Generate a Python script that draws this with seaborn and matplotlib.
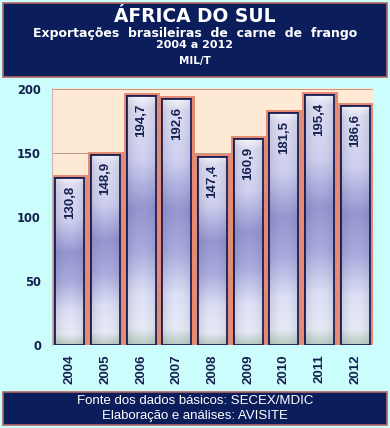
import numpy as np
import pandas as pd
import seaborn as sns
import matplotlib.pyplot as plt
import matplotlib.patheffects as pe
from matplotlib.patches import Rectangle
from matplotlib.colors import LinearSegmentedColormap

years = ["2004", "2005", "2006", "2007", "2008", "2009", "2010", "2011", "2012"]
exports = [130.8, 148.9, 194.7, 192.6, 147.4, 160.9, 181.5, 195.4, 186.6]
value_labels = ["130,8", "148,9", "194,7", "192,6", "147,4", "160,9", "181,5", "195,4", "186,6"]
y_ticks = [0, 50, 100, 150, 200]

NAVY = "#0c1d5c"
TEXT = "#14204e"
WIDE = ["DejaVu Sans"]

sns.set_style("white")
plt.rcParams["font.family"] = ["Liberation Sans", "DejaVu Sans"]

fig = plt.figure(figsize=(3.9, 4.28), dpi=100)
fig.patch.set_facecolor("#ccfdfd")
W, H = 390, 428


def box(x0, y0, x1, y1):
    # pixel coords from top-left
    fig.patches.append(Rectangle((x0 / W, 1 - y1 / H), (x1 - x0) / W, (y1 - y0) / H,
                                 transform=fig.transFigure, facecolor=NAVY,
                                 edgecolor="#b06a60", linewidth=1.2, zorder=0))


box(3, 3, 387, 77)
box(3, 392, 387, 425)

fig.text(0.5, 1 - 17 / H, "ÁFRICA DO SUL", color="white", fontsize=13.4,
         fontweight="bold", ha="center", va="center", family=WIDE)
fig.text(0.5, 1 - 33 / H, "Exportações  brasileiras  de  carne  de  frango",
         color="white", fontsize=9, fontweight="bold", ha="center", va="center",
         family=WIDE)
fig.text(0.5, 1 - 45.5 / H, "2004 a 2012", color="white", fontsize=8,
         fontweight="bold", ha="center", va="center", family=WIDE)
fig.text(0.5, 1 - 61 / H, "MIL/T", color="white", fontsize=7.5,
         fontweight="bold", ha="center", va="center", family=WIDE)
fig.text(0.5, 1 - 401 / H, "Fonte dos dados básicos: SECEX/MDIC", color="white",
         fontsize=9.5, ha="center", va="center")
fig.text(0.5, 1 - 416.5 / H, "Elaboração e análises: AVISITE", color="white",
         fontsize=9.5, ha="center", va="center")

ax = fig.add_axes([52 / W, 1 - 345 / H, (373 - 52) / W, (345 - 88) / H])
ax.set_facecolor("#fde9d4")

df = pd.DataFrame({"ano": years, "exportacao": exports})
sns.barplot(data=df, x="ano", y="exportacao", ax=ax, width=0.82,
            color="#a8a8dc", edgecolor="#1c1f55", linewidth=1.3, saturation=1)

# vertical gradient of each bar (top -> bottom)
grad = LinearSegmentedColormap.from_list("bar", [
    (0.0, "#f2f3fb"), (0.04, "#dcdcf2"), (0.25, "#cfd0f0"),
    (0.45, "#9696d2"), (0.62, "#a9aade"), (0.8, "#dde0f6"),
    (0.94, "#e6eaf6"), (1.0, "#bccbc4")])
ny, nx = 120, 30
t = np.linspace(0, 1, ny)[:, None]
s = np.linspace(-1, 1, nx)[None, :]
rgb = grad(np.repeat(t, nx, axis=1))[..., :3]
rgb = rgb * (1 - 0.10 * s[..., None] ** 2)

for patch, lab in zip(ax.patches, value_labels):
    x0, y0 = patch.get_x(), patch.get_y()
    w, h = patch.get_width(), patch.get_height()
    patch.set_path_effects([pe.Stroke(linewidth=5, foreground="#e48a72"), pe.Normal()])
    patch.set_zorder(2)
    im = ax.imshow(rgb, extent=(x0, x0 + w, y0, y0 + h), aspect="auto",
                   origin="upper", zorder=2.5, interpolation="bilinear")
    im.set_clip_path(patch)
    edge = Rectangle((x0, y0), w, h, facecolor="none", edgecolor="#1c1f55",
                     linewidth=1.3, zorder=3)
    ax.add_patch(edge)
    ax.text(x0 + w / 2, y0 + h - 6, lab, rotation=90, ha="center", va="top",
            fontsize=9.5, fontweight="bold", color=TEXT, zorder=4)

ax.set_xlim(-0.5, len(years) - 0.5)
ax.set_ylim(0, 201)
ax.set_yticks(y_ticks)
ax.yaxis.grid(True, color="#b89a8a", linewidth=0.7, zorder=0)
ax.set_axisbelow(True)
for sp in ax.spines.values():
    sp.set_visible(False)
ax.spines["left"].set_visible(True)
ax.spines["left"].set_color("#c8b8b0")
ax.tick_params(axis="y", length=3, color="#888888", labelsize=8.3, labelcolor=TEXT, pad=5)
ax.tick_params(axis="x", length=3, color="#888888", labelsize=9.5, labelcolor=TEXT,
               rotation=90, pad=4)
for lbl in ax.get_yticklabels():
    lbl.set_fontweight("bold")
    lbl.set_family(WIDE)
for lbl in ax.get_xticklabels():
    lbl.set_fontweight("bold")
ax.set_xlabel("")
ax.set_ylabel("")

fig.savefig("out.png", dpi=100, facecolor=fig.get_facecolor())
